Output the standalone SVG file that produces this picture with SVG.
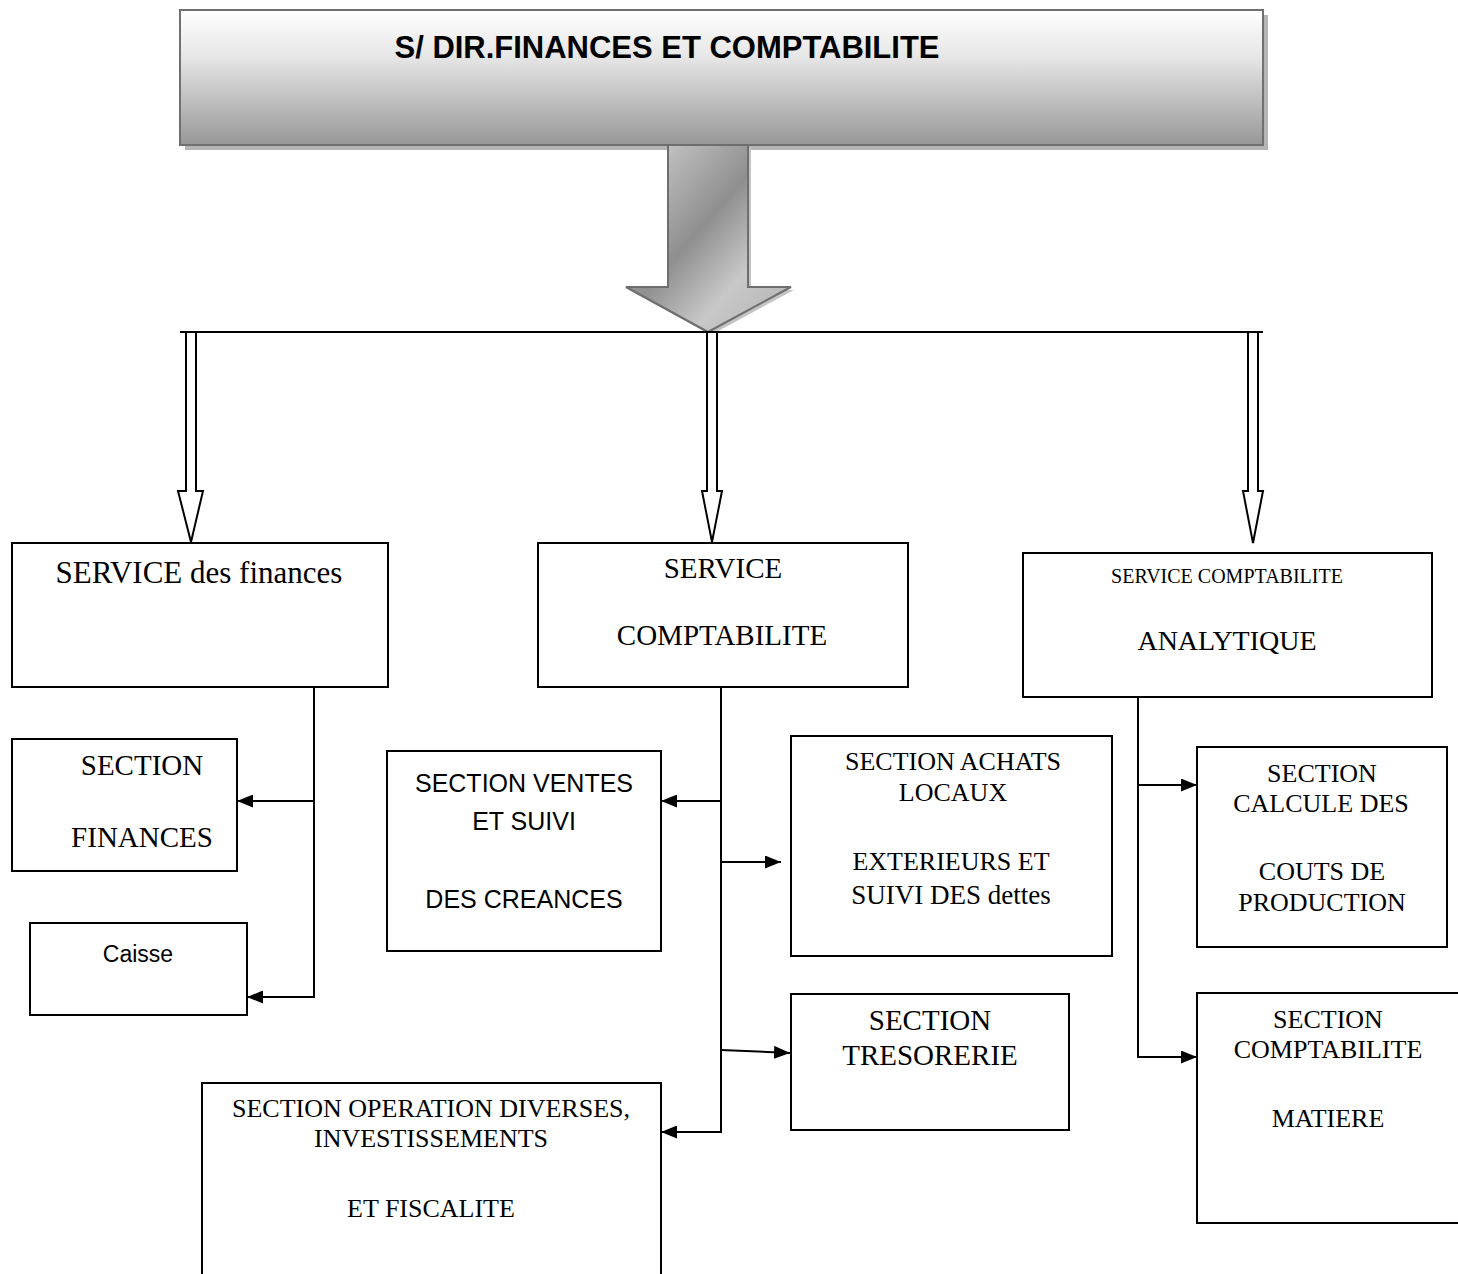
<svg xmlns="http://www.w3.org/2000/svg" width="1458" height="1274" viewBox="0 0 1458 1274">
<defs>
<linearGradient id="topGrad" x1="0" y1="0" x2="0" y2="1">
<stop offset="0" stop-color="#ffffff"/>
<stop offset="0.35" stop-color="#e6e6e6"/>
<stop offset="1" stop-color="#979797"/>
</linearGradient>
<linearGradient id="arrowGrad" x1="0" y1="0" x2="1" y2="1">
<stop offset="0" stop-color="#d4d4d4"/>
<stop offset="0.45" stop-color="#8f8f8f"/>
<stop offset="0.7" stop-color="#c8c8c8"/>
<stop offset="1" stop-color="#b0b0b0"/>
</linearGradient>
<marker id="ah" viewBox="0 0 16 13" refX="16" refY="6.5" markerWidth="16" markerHeight="13" markerUnits="userSpaceOnUse" orient="auto">
<path d="M0,0 L16,6.5 L0,13 Z" fill="#000"/>
</marker>
<style>
.box{fill:#fff;stroke:#000;stroke-width:2}
.serif{font-family:"Liberation Serif","Times New Roman",serif;fill:#000;text-anchor:middle}
.sans{font-family:"Liberation Sans",Arial,sans-serif;fill:#000;text-anchor:middle}
.conn{fill:none;stroke:#000;stroke-width:2}
.hollow{fill:#fff;stroke:#000;stroke-width:2;stroke-linejoin:miter}
</style>
</defs>
<rect width="1458" height="1274" fill="#fff"/>

<g id="top">
<rect x="185" y="15" width="1083" height="135" fill="#b5b5b5"/>
<rect x="180" y="10" width="1083" height="135" fill="url(#topGrad)" stroke="#707070" stroke-width="2"/>
<text x="667" y="58" class="sans" font-size="31" font-weight="bold" textLength="545" lengthAdjust="spacingAndGlyphs">S/ DIR.FINANCES ET COMPTABILITE</text>
</g>

<g id="big-arrow">
<polygon points="671,148 751,148 751,290 794,290 711,335 629,290 671,290" fill="#c4c4c4"/>
<polygon points="668,145 748,145 748,287 791,287 708,332 626,287 668,287" fill="url(#arrowGrad)" stroke="#6e6e6e" stroke-width="2"/>
</g>

<g id="connectors">
<line x1="180" y1="332" x2="1263" y2="332" class="conn"/>
<polygon class="hollow" points="186,332 196,332 196,491 203,491 191,542 178,491 186,491"/>
<polygon class="hollow" points="707,332 717,332 717,491 722,491 712,542 702,491 707,491"/>
<polygon class="hollow" points="1248,332 1258,332 1258,491 1263,491 1253,543 1243,491 1248,491"/>

<line x1="314" y1="687" x2="314" y2="997" class="conn"/>
<line x1="314" y1="801" x2="237" y2="801" class="conn" marker-end="url(#ah)"/>
<line x1="315" y1="997" x2="247" y2="997" class="conn" marker-end="url(#ah)"/>

<line x1="721" y1="687" x2="721" y2="1132" class="conn"/>
<line x1="721" y1="801" x2="661" y2="801" class="conn" marker-end="url(#ah)"/>
<line x1="721" y1="862" x2="781" y2="862" class="conn" marker-end="url(#ah)"/>
<line x1="721" y1="1050" x2="790" y2="1053" class="conn" marker-end="url(#ah)"/>
<line x1="722" y1="1132" x2="661" y2="1132" class="conn" marker-end="url(#ah)"/>

<line x1="1138" y1="697" x2="1138" y2="1057" class="conn"/>
<line x1="1137" y1="785" x2="1197" y2="785" class="conn" marker-end="url(#ah)"/>
<line x1="1137" y1="1057" x2="1197" y2="1057" class="conn" marker-end="url(#ah)"/>
</g>

<g id="service-finances">
<rect x="12" y="543" width="376" height="144" class="box"/>
<text x="199" y="583" class="serif" font-size="31">SERVICE des finances</text>
</g>

<g id="service-comptabilite">
<rect x="538" y="543" width="370" height="144" class="box"/>
<text x="723" y="578" class="serif" font-size="29">SERVICE</text>
<text x="722" y="645" class="serif" font-size="29">COMPTABILITE</text>
</g>

<g id="service-analytique">
<rect x="1023" y="553" width="409" height="144" class="box"/>
<text x="1227" y="583" class="serif" font-size="20">SERVICE COMPTABILITE</text>
<text x="1227" y="650" class="serif" font-size="28">ANALYTIQUE</text>
</g>

<g id="section-finances">
<rect x="12" y="739" width="225" height="132" class="box"/>
<text x="142" y="775" class="serif" font-size="29">SECTION</text>
<text x="142" y="847" class="serif" font-size="29">FINANCES</text>
</g>

<g id="caisse">
<rect x="30" y="923" width="217" height="92" class="box"/>
<text x="138" y="962" class="sans" font-size="23">Caisse</text>
</g>

<g id="section-ventes">
<rect x="387" y="751" width="274" height="200" class="box"/>
<text x="524" y="792" class="sans" font-size="25">SECTION VENTES</text>
<text x="524" y="830" class="sans" font-size="25">ET SUIVI</text>
<text x="524" y="908" class="sans" font-size="25">DES CREANCES</text>
</g>

<g id="section-achats">
<rect x="791" y="736" width="321" height="220" class="box"/>
<text x="953" y="770" class="serif" font-size="26">SECTION ACHATS</text>
<text x="953" y="801" class="serif" font-size="26">LOCAUX</text>
<text x="951" y="870" class="serif" font-size="26">EXTERIEURS ET</text>
<text x="951" y="904" class="serif" font-size="27">SUIVI DES dettes</text>
</g>

<g id="section-tresorerie">
<rect x="791" y="994" width="278" height="136" class="box"/>
<text x="930" y="1030" class="serif" font-size="29">SECTION</text>
<text x="930" y="1065" class="serif" font-size="29">TRESORERIE</text>
</g>

<g id="section-operation">
<path d="M202,1276 L202,1083 L661,1083 L661,1276" class="box"/>
<text x="431" y="1117" class="serif" font-size="26">SECTION OPERATION DIVERSES,</text>
<text x="431" y="1147" class="serif" font-size="26">INVESTISSEMENTS</text>
<text x="431" y="1217" class="serif" font-size="26">ET FISCALITE</text>
</g>

<g id="section-calcule">
<rect x="1197" y="747" width="250" height="200" class="box"/>
<text x="1322" y="782" class="serif" font-size="26">SECTION</text>
<text x="1321" y="812" class="serif" font-size="26">CALCULE DES</text>
<text x="1322" y="880" class="serif" font-size="26">COUTS DE</text>
<text x="1322" y="911" class="serif" font-size="26">PRODUCTION</text>
</g>

<g id="section-matiere">
<path d="M1460,993 L1197,993 L1197,1223 L1460,1223" class="box"/>
<text x="1328" y="1028" class="serif" font-size="26">SECTION</text>
<text x="1328" y="1058" class="serif" font-size="26">COMPTABILITE</text>
<text x="1328" y="1127" class="serif" font-size="26">MATIERE</text>
</g>
</svg>
